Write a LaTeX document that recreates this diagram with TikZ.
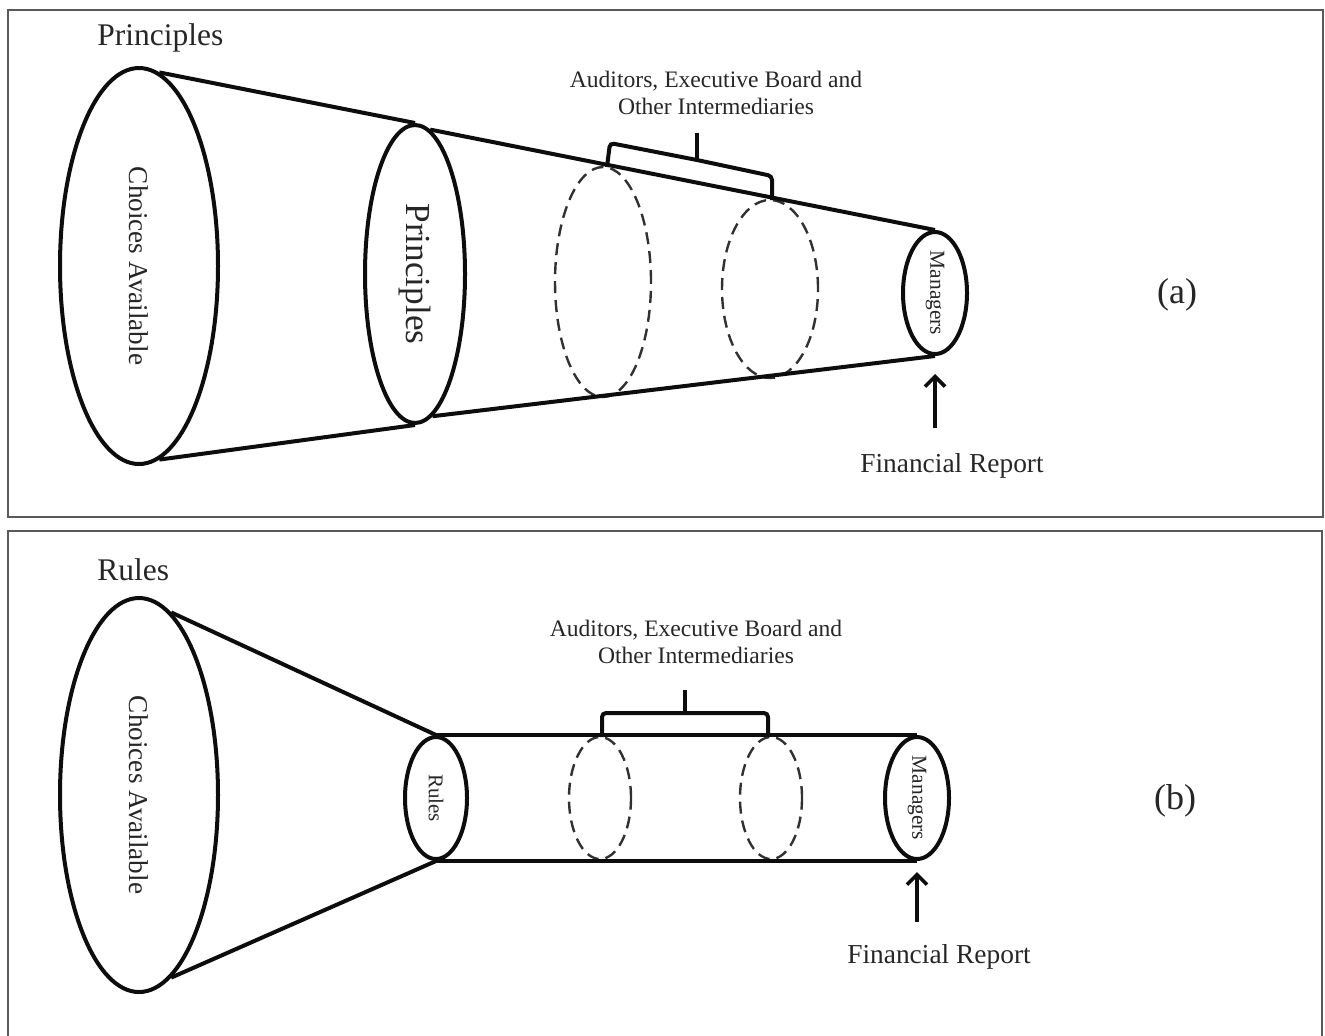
\documentclass[tikz,border=0pt]{standalone}
\usepackage{fontspec}
\setmainfont{Liberation Serif}
\usetikzlibrary{shapes.geometric, arrows.meta, positioning}
\definecolor{ink}{HTML}{0D0D0D}
\definecolor{textgray}{HTML}{262626}
\definecolor{framegray}{HTML}{5A5A5A}
\tikzset{
  % solid funnel rings
  oval/.style={ellipse, draw=ink, line width=2pt, inner sep=0pt, text=textgray},
  % dashed intermediary rings
  ghost/.style={ellipse, draw=ink!85, line width=1.2pt, dash pattern=on 6pt off 3.5pt,
                inner sep=0pt},
  % funnel sides
  side/.style={draw=ink, line width=2pt},
  bracket/.style={draw=ink, line width=2pt, rounded corners=2pt},
  uparrow/.style={-{Straight Barb[length=5pt, width=10pt]}, draw=ink, line width=1.8pt},
  panel/.style={draw=framegray, line width=1.1pt},
  lbl/.style={text=textgray, inner sep=0pt, align=center},
}

\begin{document}
\begin{tikzpicture}[x=0.5pt, y=-0.5pt]
\useasboundingbox (0,0) rectangle (1325,1035);

% ── Panel frames ─────────────────────────────────────────────────────────────
\draw[panel] (8,10) rectangle (1323,517);
\draw[panel] (8,1040) -- (8,531) -- (1322,531) -- (1322,1040);

% ── (a) Principles ───────────────────────────────────────────────────────────
\node[lbl, anchor=west, font=\fontsize{15.75}{18}\selectfont] (titleA) at (97,38) {Principles};

\node[oval, minimum width=79pt, minimum height=198pt, font=\fontsize{13.6}{16}\selectfont]
  (choicesA) at (139,266) {\rotatebox{-90}{Choices Available}};
\node[oval, minimum width=50pt, minimum height=149pt, font=\fontsize{17.6}{20}\selectfont]
  (prinA) at (415,274) {\rotatebox{-90}{Principles}};
\node[ghost, minimum width=48pt, minimum height=115pt] (ringA1) at (603,282) {};
\node[ghost, minimum width=48pt, minimum height=89pt]  (ringA2) at (770,289) {};
\node[oval, minimum width=32pt, minimum height=61pt, font=\fontsize{10.7}{12}\selectfont]
  (mgrA) at (935,293) {\rotatebox{-90}{Managers}};

\node[lbl, font=\fontsize{11.8}{13.5}\selectfont] (audA) at (716,93)
  {Auditors, Executive Board and\\Other Intermediaries};
\node[lbl, font=\fontsize{13.7}{16}\selectfont] (finA) at (952,466) {Financial Report};
\node[lbl, font=\fontsize{18}{20}\selectfont] (tagA) at (1177,295) {(a)};

\draw[side] (choicesA.84)  -- (prinA.north);
\draw[side] (choicesA.-84) -- (prinA.south);
\draw[side] (prinA.84)     -- (mgrA.north);
\draw[side] (prinA.-83)    -- (mgrA.south);

\draw[bracket] (607,167) -- (610,143) -- (697,160) -- (772,176) -- (772,200);
\draw[bracket] (697,160) -- (697,133);

\draw[uparrow, shorten <=12.5pt, shorten >=9pt] (mgrA.south |- finA.north) -- (mgrA.south);

% ── (b) Rules ────────────────────────────────────────────────────────────────
\node[lbl, anchor=west, font=\fontsize{15.75}{18}\selectfont] (titleB) at (97,570) {Rules};

\node[oval, minimum width=79pt, minimum height=197pt, font=\fontsize{13.6}{16}\selectfont]
  (choicesB) at (139,795) {\rotatebox{-90}{Choices Available}};
\node[oval, minimum width=31pt, minimum height=61pt, font=\fontsize{10.5}{12}\selectfont]
  (rulesB) at (436,798) {\rotatebox{-90}{Rules}};
\node[ghost, minimum width=31pt, minimum height=61pt] (ringB1) at (600,798) {};
\node[ghost, minimum width=31pt, minimum height=61pt] (ringB2) at (771,798) {};
\node[oval, minimum width=32pt, minimum height=61pt, font=\fontsize{10.7}{12}\selectfont]
  (mgrB) at (917,798) {\rotatebox{-90}{Managers}};

\node[lbl, font=\fontsize{11.8}{13.5}\selectfont] (audB) at (696,642)
  {Auditors, Executive Board and\\Other Intermediaries};
\node[lbl, font=\fontsize{13.7}{16}\selectfont] (finB) at (939,957) {Financial Report};
\node[lbl, font=\fontsize{18}{20}\selectfont] (tagB) at (1175,801) {(b)};

\draw[side] (choicesB.80)  -- (rulesB.north);
\draw[side] (choicesB.-80) -- (rulesB.south);
\draw[side] (rulesB.north) -- (mgrB.north);
\draw[side] (rulesB.south) -- (mgrB.south);

\draw[bracket] (602,737) -- (602,713) -- (768,713) -- (768,737);
\draw[bracket] (685,713) -- (685,690);

\draw[uparrow, shorten <=11pt, shorten >=5.5pt] (mgrB.south |- finB.north) -- (mgrB.south);

\end{tikzpicture}
\end{document}
